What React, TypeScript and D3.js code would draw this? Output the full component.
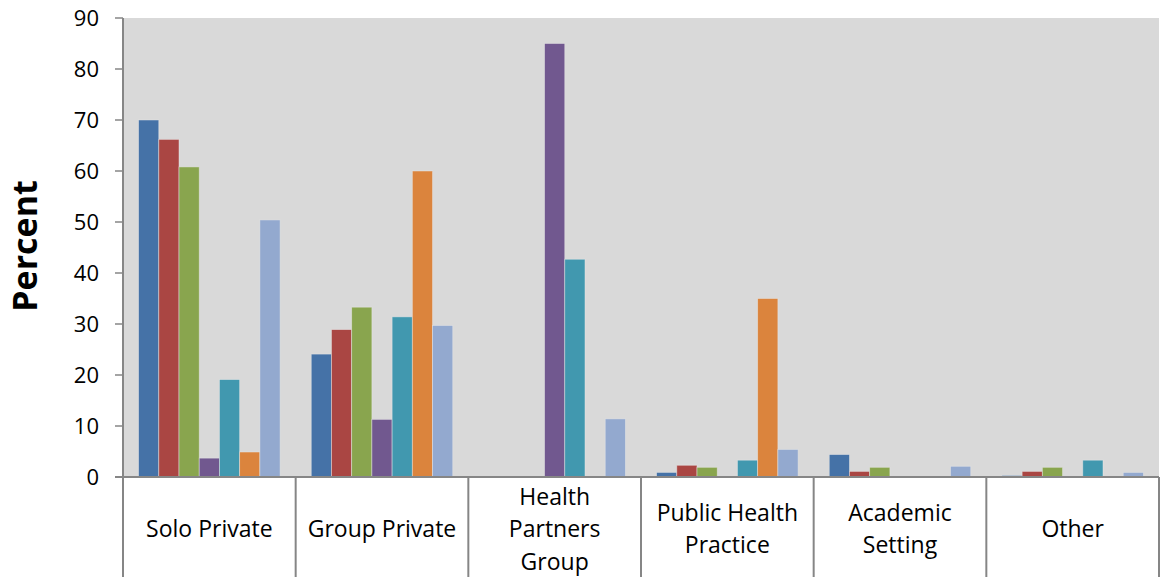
import * as d3 from "d3";

const categories = [
  ["Solo Private"],
  ["Group Private"],
  ["Health", "Partners", "Group"],
  ["Public Health", "Practice"],
  ["Academic", "Setting"],
  ["Other"],
];
const seriesColors = ["#4572A7", "#AA4643", "#89A54E", "#71588F", "#4198AF", "#DB843D", "#93A9CF"];

const s1 = [70, 24.1, 0, 0.9, 4.4, 0.3];
const s2 = [66.2, 28.9, 0, 2.3, 1.1, 1.1];
const s3 = [60.8, 33.3, 0, 1.9, 1.9, 1.9];
const s4 = [3.7, 11.3, 85, 0, 0, 0];
const s5 = [19.1, 31.4, 42.7, 3.3, 0, 3.3];
const s6 = [4.9, 60, 0, 35, 0, 0];
const s7 = [50.4, 29.7, 11.4, 5.4, 2.1, 0.9];
const series = [s1, s2, s3, s4, s5, s6, s7];
const yTicks = [0, 10, 20, 30, 40, 50, 60, 70, 80, 90];

const W = 1160;
const H = 577;
const left = 123;
const right = 1159;
const top = 18;
const bottom = 477;
const font = "Open Sans, Noto Sans, sans-serif";

export default function App() {
  const x = d3.scaleBand<number>().domain(d3.range(categories.length)).range([left, right]).paddingInner(0).paddingOuter(0);
  const inner = d3.scaleBand<number>().domain(d3.range(series.length)).range([0, x.bandwidth()]).paddingOuter(0.77).paddingInner(0);
  const y = d3.scaleLinear().domain([0, 90]).range([bottom, top]);

  return (
    <svg width={W} height={H} style={{ position: "absolute", left: 0, top: 0, background: "#fff" }}>
      <rect x={left} y={top} width={right - left} height={bottom - top} fill="#D9D9D9" />
      {series.map((vals, si) =>
        vals.map((v, ci) =>
          v > 0 ? (
            <rect
              key={`${si}-${ci}`}
              x={(x(ci) as number) + (inner(si) as number)}
              y={y(v)}
              width={inner.bandwidth()}
              height={bottom - y(v)}
              fill={seriesColors[si]}
              stroke="#e8e8e8"
              strokeOpacity={0.6}
              strokeWidth={0.8}
            />
          ) : null
        )
      )}
      {/* y axis */}
      <line x1={left} x2={left} y1={top} y2={H} stroke="#868686" strokeWidth={2} />
      {yTicks.map((t) => (
        <g key={t}>
          <line x1={left - 8} x2={left} y1={y(t)} y2={y(t)} stroke="#868686" strokeWidth={1.5} />
          <text x={99} y={y(t)} dy="0.35em" textAnchor="end" fontFamily={font} fontSize={22} fill="#000">
            {t}
          </text>
        </g>
      ))}
      {/* x axis */}
      <line x1={left - 8} x2={right} y1={bottom} y2={bottom} stroke="#868686" strokeWidth={2} />
      {categories.map((lines, ci) => {
        const cx = (x(ci) as number) + x.bandwidth() / 2;
        const lh = 32.5;
        const cy = 529 - ((lines.length - 1) * lh) / 2;
        return (
          <g key={ci}>
            <line x1={(x(ci) as number) + x.bandwidth()} x2={(x(ci) as number) + x.bandwidth()} y1={bottom} y2={H} stroke="#868686" strokeWidth={2} />
            {lines.map((l, li) => (
              <text key={li} x={cx} y={cy + li * lh} dy="0.35em" textAnchor="middle" fontFamily={font} fontSize={23} fill="#000">
                {l}
              </text>
            ))}
          </g>
        );
      })}
      <text transform={`translate(25,246) rotate(-90)`} textAnchor="middle" fontFamily={font} fontSize={34} fontWeight="bold" dy="0.35em">
        Percent
      </text>
    </svg>
  );
}
